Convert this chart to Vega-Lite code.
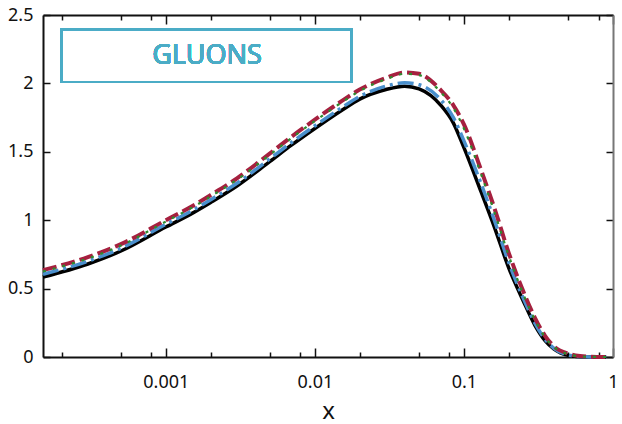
{
  "$schema": "https://vega.github.io/schema/vega-lite/v6.json",
  "width": 570,
  "height": 342,
  "autosize": "none",
  "padding": {"left": 43, "top": 15, "right": 9, "bottom": 67},
  "config": {
    "view": {"stroke": null},
    "font": "Noto Sans",
    "axis": {"grid": false, "labelFont": "Noto Sans", "labelFontSize": 18, "labelColor": "#111", "domainColor": "#111", "tickColor": "#111", "domainWidth": 2, "tickWidth": 1.5, "labelFlush": false, "labelOverlap": false}
  },
  "data": {"values": [
    {"x": 0.00015, "k": 0.585, "b": 0.605, "g": 0.625, "r": 0.635},
    {"x": 0.0003, "k": 0.68, "b": 0.7, "g": 0.72, "r": 0.73},
    {"x": 0.0005, "k": 0.775, "b": 0.795, "g": 0.815, "r": 0.825},
    {"x": 0.001, "k": 0.95, "b": 0.97, "g": 0.99, "r": 1.0},
    {"x": 0.0015, "k": 1.05, "b": 1.07, "g": 1.092, "r": 1.102},
    {"x": 0.002, "k": 1.13, "b": 1.15, "g": 1.174, "r": 1.184},
    {"x": 0.003, "k": 1.25, "b": 1.27, "g": 1.296, "r": 1.306},
    {"x": 0.005, "k": 1.43, "b": 1.45, "g": 1.479, "r": 1.489},
    {"x": 0.007, "k": 1.55, "b": 1.57, "g": 1.602, "r": 1.612},
    {"x": 0.01, "k": 1.67, "b": 1.69, "g": 1.725, "r": 1.735},
    {"x": 0.015, "k": 1.8, "b": 1.82, "g": 1.858, "r": 1.868},
    {"x": 0.02, "k": 1.885, "b": 1.905, "g": 1.945, "r": 1.955},
    {"x": 0.03, "k": 1.955, "b": 1.98, "g": 2.03, "r": 2.04},
    {"x": 0.04, "k": 1.98, "b": 2.005, "g": 2.07, "r": 2.08},
    {"x": 0.05, "k": 1.96, "b": 1.99, "g": 2.06, "r": 2.07},
    {"x": 0.07, "k": 1.84, "b": 1.88, "g": 1.935, "r": 1.95},
    {"x": 0.085, "k": 1.71, "b": 1.75, "g": 1.82, "r": 1.84},
    {"x": 0.1, "k": 1.53, "b": 1.58, "g": 1.67, "r": 1.7},
    {"x": 0.13, "k": 1.21, "b": 1.27, "g": 1.34, "r": 1.37},
    {"x": 0.16, "k": 0.95, "b": 1.0, "g": 1.06, "r": 1.09},
    {"x": 0.2, "k": 0.65, "b": 0.69, "g": 0.74, "r": 0.76},
    {"x": 0.25, "k": 0.41, "b": 0.43, "g": 0.46, "r": 0.48},
    {"x": 0.3, "k": 0.23, "b": 0.245, "g": 0.27, "r": 0.285},
    {"x": 0.35, "k": 0.12, "b": 0.13, "g": 0.145, "r": 0.155},
    {"x": 0.4, "k": 0.06, "b": 0.065, "g": 0.075, "r": 0.08},
    {"x": 0.5, "k": 0.012, "b": 0.014, "g": 0.02, "r": 0.025},
    {"x": 0.6, "k": 0.002, "b": 0.003, "g": 0.005, "r": 0.007},
    {"x": 0.7, "k": 0, "b": 0, "g": 0.001, "r": 0.002},
    {"x": 0.9, "k": 0, "b": 0, "g": 0, "r": 0}
  ]},
  "resolve": {"axis": {"x": "independent", "y": "independent"}},
  "layer": [
    {
      "mark": {"type": "line", "color": "#000000", "strokeWidth": 3.5, "interpolate": "monotone"},
      "encoding": {
        "x": {"field": "x", "type": "quantitative",
          "scale": {"type": "log", "domain": [0.00015, 1], "nice": false},
          "axis": {"orient": "bottom", "title": "x", "titleFontSize": 24, "titleFontWeight": "normal", "titleColor": "#111", "titleFont": "Noto Sans", "titleBaseline": "alphabetic", "titleY": 61,
            "values": [0.0002, 0.0005, 0.0008, 0.001, 0.002, 0.005, 0.008, 0.01, 0.02, 0.05, 0.08, 0.1, 0.2, 0.5, 0.8, 1],
            "tickSize": {"condition": {"test": "abs(log(datum.value)/LN10 - round(log(datum.value)/LN10)) < 0.01", "value": -9}, "value": -5},
            "labelPadding": 25,
            "labelExpr": "abs(log(datum.value)/LN10 - round(log(datum.value)/LN10)) < 0.01 ? toString(datum.value) : ''"}},
        "y": {"field": "k", "type": "quantitative",
          "scale": {"domain": [0, 2.5], "nice": false, "zero": false},
          "axis": {"orient": "left", "title": null, "values": [0, 0.5, 1, 1.5, 2, 2.5], "format": ".1~f", "tickSize": -7, "labelPadding": 17}}
      }
    },
    {
      "mark": {"type": "line", "color": "#4a8fcc", "strokeWidth": 3.5, "strokeDash": [16, 5, 3, 5], "interpolate": "monotone"},
      "encoding": {
        "x": {"field": "x", "type": "quantitative", "axis": null},
        "y": {"field": "b", "type": "quantitative", "axis": null}
      }
    },
    {
      "mark": {"type": "line", "color": "#a6203f", "strokeWidth": 4, "strokeDash": [14, 5], "interpolate": "monotone"},
      "encoding": {
        "x": {"field": "x", "type": "quantitative", "axis": null},
        "y": {"field": "r", "type": "quantitative", "axis": null}
      }
    },
    {
      "mark": {"type": "line", "color": "#2e8b2e", "strokeWidth": 2.2, "strokeDash": [3, 7], "interpolate": "monotone"},
      "encoding": {
        "x": {"field": "x", "type": "quantitative",
          "axis": {"orient": "top", "title": null, "labels": false, "domainColor": "#111",
            "values": [0.0002, 0.0005, 0.0008, 0.001, 0.002, 0.005, 0.008, 0.01, 0.02, 0.05, 0.08, 0.1, 0.2, 0.5, 0.8, 1],
            "tickSize": {"condition": {"test": "abs(log(datum.value)/LN10 - round(log(datum.value)/LN10)) < 0.01", "value": -9}, "value": -5}}},
        "y": {"field": "g", "type": "quantitative",
          "axis": {"orient": "right", "title": null, "labels": false, "domainColor": "#777", "values": [0, 0.5, 1, 1.5, 2, 2.5], "tickSize": -7}}
      }
    },
    {
      "mark": {"type": "rect", "filled": false, "stroke": "#4bacc6", "strokeWidth": 2},
      "encoding": {
        "x": {"datum": 0.0002, "type": "quantitative", "axis": null},
        "x2": {"datum": 0.0177},
        "y": {"datum": 2.01, "type": "quantitative", "axis": null},
        "y2": {"datum": 2.395}
      }
    },
    {
      "mark": {"type": "text", "text": "GLUONS", "color": "#4bacc6", "fontSize": 27, "fontWeight": "normal", "font": "Noto Sans", "align": "center", "baseline": "middle"},
      "encoding": {
        "x": {"datum": 0.00189, "type": "quantitative", "axis": null},
        "y": {"datum": 2.2, "type": "quantitative", "axis": null}
      }
    }
  ]
}
